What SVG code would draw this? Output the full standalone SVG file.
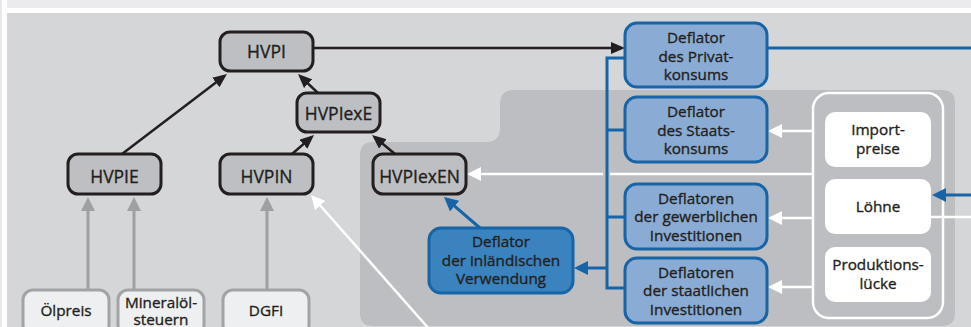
<svg xmlns="http://www.w3.org/2000/svg" width="971" height="327" viewBox="0 0 971 327">
<style>
text{font-family:"Open Sans","Noto Sans","Liberation Sans",sans-serif;fill:#231f20;stroke:#231f20;stroke-width:0.35;text-anchor:middle}
.t15{font-size:15.3px}
.t17{font-size:17.5px}
.hv{fill:#bebfc2;stroke:#231f20;stroke-width:3}
.src{fill:#eeeff0;stroke:#a2a3a6;stroke-width:3}
.df{fill:#8aacd4;stroke:#1764a6;stroke-width:3}
.dfd{fill:#3a83bf;stroke:#1764a6;stroke-width:3}
.wb{fill:#ffffff}
.blk{stroke:#231f20;stroke-width:2.5;fill:none}
.gry{stroke:#9fa0a3;stroke-width:3;fill:none}
.wht{stroke:#ffffff;stroke-width:2.5;fill:none}
.blu{stroke:#1764a6;stroke-width:3;fill:none}
</style>
<defs>
<marker id="ab" markerUnits="userSpaceOnUse" markerWidth="15" markerHeight="12" refX="10" refY="6" orient="auto"><path d="M0,0 L14,6 L0,12 z" fill="#231f20"/></marker>
<marker id="ag" markerUnits="userSpaceOnUse" markerWidth="15" markerHeight="14" refX="10" refY="7" orient="auto"><path d="M0,0 L14,7 L0,14 z" fill="#9fa0a3"/></marker>
<marker id="aw" markerUnits="userSpaceOnUse" markerWidth="15" markerHeight="14" refX="10" refY="7" orient="auto"><path d="M0,0 L14,7 L0,14 z" fill="#ffffff"/></marker>
<marker id="au" markerUnits="userSpaceOnUse" markerWidth="15" markerHeight="14" refX="10" refY="7" orient="auto"><path d="M0,0 L14,7 L0,14 z" fill="#1764a6"/></marker>
</defs>
<rect x="0" y="0" width="971" height="327" fill="#ffffff"/>
<rect x="0" y="0" width="2" height="327" fill="#e8e8ea"/>
<rect x="7" y="0" width="964" height="8" fill="#ebebed"/>
<rect x="7" y="13" width="964" height="314" fill="#d5d6d8"/>
<path d="M360,340 V155 Q360,142 373,142 H486 Q500,142 500,128 V104 Q500,90 514,90 H942 Q955,90 955,103 V313 Q955,326 942,326 H373 Q360,326 360,313 Z" fill="#bdbec1"/>
<rect x="813" y="93" width="130" height="225" rx="16" fill="#bdbec1" stroke="#ffffff" stroke-width="2.5"/>

<g id="connectors">
<line class="blk" x1="122" y1="154" x2="223.8" y2="76.4" marker-end="url(#ab)"/>
<line class="blk" x1="318" y1="93" x2="300.9" y2="76.8" marker-end="url(#ab)"/>
<line class="blk" x1="292" y1="154" x2="311" y2="137.6" marker-end="url(#ab)"/>
<line class="blk" x1="395" y1="154" x2="375.1" y2="137.5" marker-end="url(#ab)"/>
<line class="blk" x1="313" y1="48" x2="621" y2="48" marker-end="url(#ab)"/>
<line class="gry" x1="88" y1="290" x2="88" y2="201" marker-end="url(#ag)"/>
<line class="gry" x1="134" y1="290" x2="134" y2="201" marker-end="url(#ag)"/>
<line class="gry" x1="267" y1="290" x2="267" y2="201" marker-end="url(#ag)"/>
<line class="wht" x1="430" y1="330" x2="313.6" y2="198" marker-end="url(#aw)"/>
<line class="wht" x1="813" y1="131" x2="772" y2="131" marker-end="url(#aw)"/>
<line class="wht" x1="813" y1="218" x2="772" y2="218" marker-end="url(#aw)"/>
<line class="wht" x1="813" y1="287" x2="772" y2="287" marker-end="url(#aw)"/>
<line class="wht" x1="813" y1="174" x2="610" y2="174"/>
<line class="wht" x1="603" y1="174" x2="471" y2="174" marker-end="url(#aw)"/>
<line class="wht" x1="931" y1="217" x2="971" y2="217"/>
<path class="blu" d="M625,58 H607 V288 H626 M607,130 H626 M607,217 H626"/>
<line class="blu" x1="607" y1="268" x2="578" y2="268" marker-end="url(#au)"/>
<line class="blu" x1="480" y1="228" x2="447" y2="199.6" marker-end="url(#au)"/>
<line class="blu" x1="767" y1="48" x2="971" y2="48"/>
<line class="blu" x1="971" y1="195" x2="936" y2="195" marker-end="url(#au)"/>
</g>

<g id="hvpi"><rect class="hv" x="220" y="32" width="93" height="39" rx="10"/><text class="t17" x="266.5" y="57.5">HVPI</text></g>
<g id="hvpiexe"><rect class="hv" x="297" y="93" width="83" height="39" rx="10"/><text class="t17" x="338.5" y="120">HVPIexE</text></g>
<g id="hvpie"><rect class="hv" x="68" y="154" width="93" height="40" rx="10"/><text class="t17" x="114.5" y="182.5">HVPIE</text></g>
<g id="hvpin"><rect class="hv" x="220" y="154" width="93" height="40" rx="10"/><text class="t17" x="266.5" y="182.5">HVPIN</text></g>
<g id="hvpiexen"><rect class="hv" x="373" y="154" width="93" height="40" rx="10"/><text class="t17" x="419.5" y="182.5">HVPIexEN</text></g>

<g id="oelpreis"><rect class="src" x="23" y="290" width="86" height="45" rx="10"/><text class="t15" x="66" y="316">Ölpreis</text></g>
<g id="mineraloel"><rect class="src" x="118" y="290" width="86" height="45" rx="10"/><text class="t15" x="161" y="308">Mineralöl-</text><text class="t15" x="161" y="325">steuern</text></g>
<g id="dgfi"><rect class="src" x="223" y="290" width="86" height="45" rx="10"/><text class="t15" x="266" y="316">DGFI</text></g>

<g id="privatkonsum"><rect class="df" x="625" y="23" width="142" height="64" rx="12"/><text class="t15" x="696" y="43">Deflator</text><text class="t15" x="696" y="62">des Privat-</text><text class="t15" x="696" y="80">konsums</text></g>
<g id="staatskonsum"><rect class="df" x="625" y="97" width="142" height="65" rx="12"/><text class="t15" x="696" y="117">Deflator</text><text class="t15" x="696" y="136">des Staats-</text><text class="t15" x="696" y="154">konsums</text></g>
<g id="gewerblich"><rect class="df" x="625" y="184" width="142" height="65" rx="12"/><text class="t15" x="696" y="204">Deflatoren</text><text class="t15" x="696" y="222">der gewerblichen</text><text class="t15" x="696" y="241">Investitionen</text></g>
<g id="staatlich"><rect class="df" x="625" y="258" width="142" height="65" rx="12"/><text class="t15" x="696" y="278">Deflatoren</text><text class="t15" x="696" y="296">der staatlichen</text><text class="t15" x="696" y="315">Investitionen</text></g>
<g id="inlaendisch"><rect class="dfd" x="429" y="228" width="144" height="65" rx="12"/><text class="t15" x="501" y="247">Deflator</text><text class="t15" x="501" y="266">der inländischen</text><text class="t15" x="501" y="284">Verwendung</text></g>

<g id="importpreise"><rect class="wb" x="825" y="112" width="106" height="55" rx="10"/><text class="t15" x="878" y="135">Import-</text><text class="t15" x="878" y="154">preise</text></g>
<g id="loehne"><rect class="wb" x="825" y="179" width="106" height="55" rx="10"/><text class="t15" x="878" y="212">Löhne</text></g>
<g id="produktionsluecke"><rect class="wb" x="825" y="247" width="106" height="55" rx="10"/><text class="t15" x="878" y="270">Produktions-</text><text class="t15" x="878" y="289">lücke</text></g>
</svg>
